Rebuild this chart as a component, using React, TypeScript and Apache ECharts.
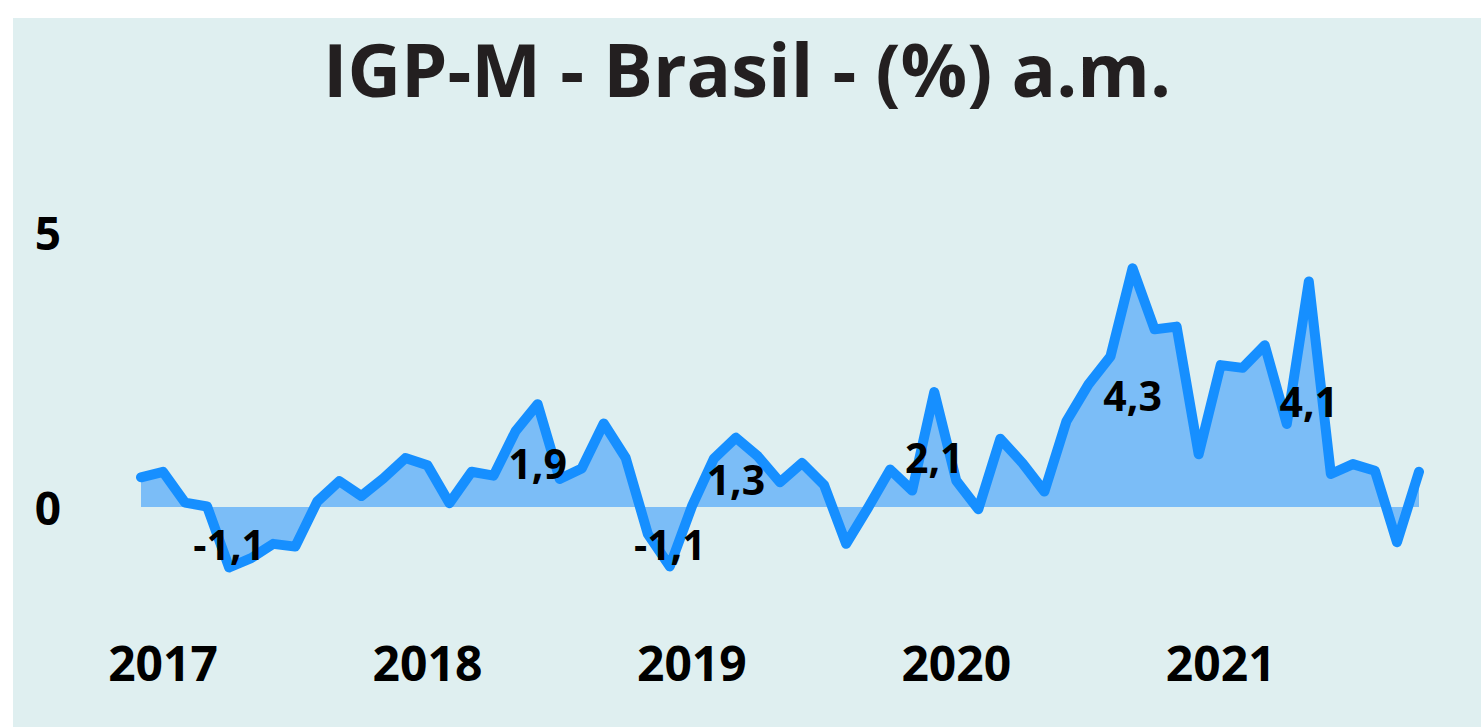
import React, { useEffect, useRef } from "react";
import * as echarts from "echarts";

const titleText = "IGP-M - Brasil - (%) a.m.";

const months: string[] = [
  "2016-12",
  "2017-01","2017-02","2017-03","2017-04","2017-05","2017-06","2017-07","2017-08","2017-09","2017-10","2017-11","2017-12",
  "2018-01","2018-02","2018-03","2018-04","2018-05","2018-06","2018-07","2018-08","2018-09","2018-10","2018-11","2018-12",
  "2019-01","2019-02","2019-03","2019-04","2019-05","2019-06","2019-07","2019-08","2019-09","2019-10","2019-11","2019-12",
  "2020-01","2020-02","2020-03","2020-04","2020-05","2020-06","2020-07","2020-08","2020-09","2020-10","2020-11","2020-12",
  "2021-01","2021-02","2021-03","2021-04","2021-05","2021-06","2021-07","2021-08","2021-09","2021-10",
];

const igpm: number[] = [
  0.54,
  0.64, 0.08, 0.01, -1.10, -0.93, -0.67, -0.72, 0.10, 0.47, 0.20, 0.52, 0.89,
  0.76, 0.07, 0.64, 0.57, 1.38, 1.87, 0.51, 0.70, 1.52, 0.89, -0.49, -1.08,
  0.01, 0.88, 1.26, 0.92, 0.45, 0.80, 0.40, -0.67, -0.01, 0.68, 0.30, 2.09,
  0.48, -0.04, 1.24, 0.80, 0.28, 1.56, 2.23, 2.74, 4.34, 3.23, 3.28, 0.96,
  2.58, 2.53, 2.94, 1.51, 4.10, 0.60, 0.78, 0.66, -0.64, 0.64,
];

const labeledIdx: number[] = [4, 18, 24, 27, 36, 45, 53];

const yTickLabels: number[] = [0, 5];

export default function App() {
  const ref = useRef<HTMLDivElement>(null);
  useEffect(() => {
    if (!ref.current) return;
    const chart = echarts.init(ref.current, undefined, { renderer: "svg" });
    const fontFamily = "'Open Sans', sans-serif";
    chart.setOption({
      animation: false,
      backgroundColor: "#dfeff0",
      title: {
        text: titleText,
        left: "center",
        top: 8,
        textStyle: { fontFamily, fontWeight: "bold", fontSize: 74, color: "#231f20" },
      },
      grid: { left: 128, right: 62, top: 76.5, bottom: 82.5, containLabel: false },
      xAxis: {
        type: "category",
        data: months,
        boundaryGap: false,
        axisLine: { show: false },
        axisTick: { show: false },
        splitLine: { show: false },
        axisLabel: {
          interval: (idx: number) => months[idx].endsWith("-01"),
          formatter: (v: string) => v.slice(0, 4),
          fontFamily,
          fontWeight: "bold",
          fontSize: 48,
          color: "#000",
          margin: -6,
        },
      },
      yAxis: {
        type: "value",
        min: -2.5,
        max: 7.5,
        interval: 2.5,
        splitLine: { show: false },
        axisLine: { show: false },
        axisTick: { show: false },
        axisLabel: {
          formatter: (v: number) => (yTickLabels.includes(v) ? String(v) : ""),
          fontFamily,
          fontWeight: "bold",
          fontSize: 46,
          color: "#000",
          margin: 80,
        },
      },
      series: [
        {
          type: "line",
          data: igpm,
          symbol: "none",
          lineStyle: { color: "#168fff", width: 10, cap: "round", join: "round" },
          areaStyle: { color: "#7bbdf7", opacity: 1 },
          z: 2,
        },
        {
          type: "scatter",
          data: labeledIdx.map((i) => [i, igpm[i] / 2]),
          symbolSize: 0,
          z: 5,
          label: {
            show: true,
            position: "inside",
            offset: [0, 7],
            formatter: (p: any) => igpm[p.data[0]].toFixed(1).replace(".", ","),
            fontFamily,
            fontWeight: "bold",
            fontSize: 41,
            color: "#000",
            opacity: 1,
          },
        },
      ],
    });
    return () => chart.dispose();
  }, []);
  return (
    <div
      ref={ref}
      style={{ position: "absolute", left: 13, top: 18, width: 1468, height: 709 }}
    />
  );
}
